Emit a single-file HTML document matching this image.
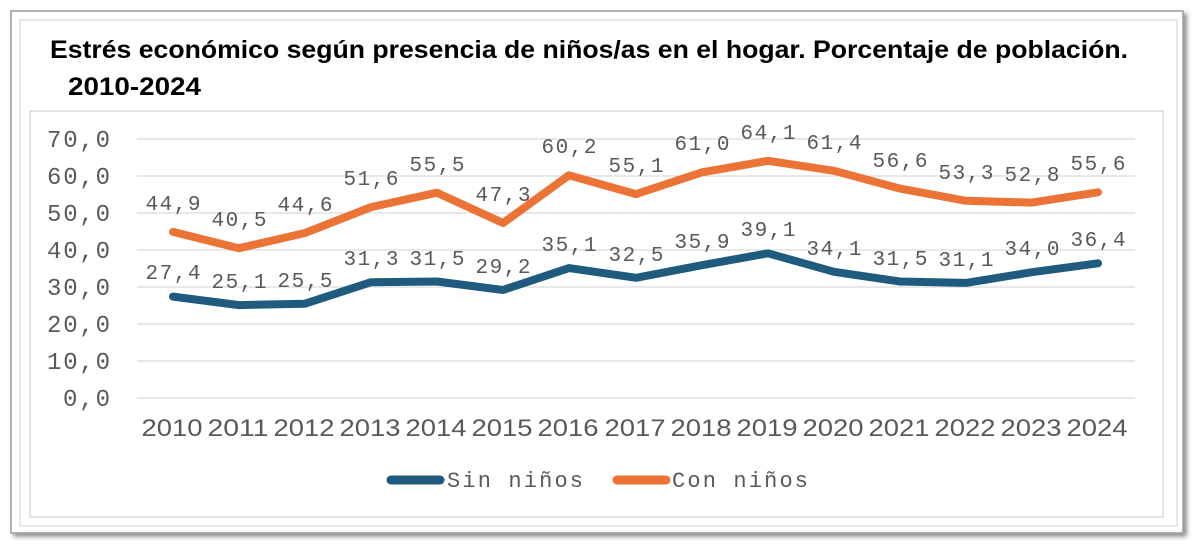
<!DOCTYPE html>
<html><head><meta charset="utf-8"><style>
html,body{margin:0;padding:0;background:#fff;}
svg{display:block;}
</style></head><body>
<svg width="1200" height="548" xmlns="http://www.w3.org/2000/svg">
<defs><filter id="sh" x="-5%" y="-5%" width="110%" height="115%"><feDropShadow dx="3" dy="3" stdDeviation="2.5" flood-color="#000" flood-opacity="0.45"/></filter></defs>
<rect x="11" y="11" width="1172" height="522" fill="#fff" stroke="#9a9a9a" stroke-width="1.5" filter="url(#sh)"/>
<rect x="20" y="20" width="1157" height="506" fill="#fff" stroke="#d0d0d0" stroke-width="1"/>
<rect x="30" y="111" width="1133" height="406" fill="#fff" stroke="#d9d9d9" stroke-width="1.5"/>
<g font-family="'Liberation Sans',sans-serif" font-weight="bold" font-size="25" fill="#000">
<text x="50" y="58" textLength="1078" lengthAdjust="spacingAndGlyphs">Estrés económico según presencia de niños/as en el hogar. Porcentaje de población.</text>
<text x="68" y="95" textLength="133" lengthAdjust="spacingAndGlyphs">2010-2024</text>
</g>
<g stroke="#d9d9d9" stroke-width="1.3">
<line x1="137" x2="1135" y1="139" y2="139"/><line x1="137" x2="1135" y1="176" y2="176"/><line x1="137" x2="1135" y1="213" y2="213"/><line x1="137" x2="1135" y1="250" y2="250"/><line x1="137" x2="1135" y1="287" y2="287"/><line x1="137" x2="1135" y1="324" y2="324"/><line x1="137" x2="1135" y1="361" y2="361"/><line x1="137" x2="1135" y1="398" y2="398"/>
</g>
<g font-family="'Liberation Mono',monospace" font-size="24" fill="#595959" text-anchor="end">
<text x="110" y="147" textLength="63">70,0</text><text x="110" y="184" textLength="63">60,0</text><text x="110" y="221" textLength="63">50,0</text><text x="110" y="258" textLength="63">40,0</text><text x="110" y="295" textLength="63">30,0</text><text x="110" y="332" textLength="63">20,0</text><text x="110" y="369" textLength="63">10,0</text><text x="110" y="406" textLength="47">0,0</text>
</g>
<g font-family="'Liberation Sans',sans-serif" font-size="24" fill="#595959" text-anchor="middle" lengthAdjust="spacingAndGlyphs">
<text x="172" y="436" textLength="61" lengthAdjust="spacingAndGlyphs">2010</text><text x="238" y="436" textLength="61" lengthAdjust="spacingAndGlyphs">2011</text><text x="304" y="436" textLength="61" lengthAdjust="spacingAndGlyphs">2012</text><text x="370" y="436" textLength="61" lengthAdjust="spacingAndGlyphs">2013</text><text x="436" y="436" textLength="61" lengthAdjust="spacingAndGlyphs">2014</text><text x="502" y="436" textLength="61" lengthAdjust="spacingAndGlyphs">2015</text><text x="568" y="436" textLength="61" lengthAdjust="spacingAndGlyphs">2016</text><text x="635" y="436" textLength="61" lengthAdjust="spacingAndGlyphs">2017</text><text x="701" y="436" textLength="61" lengthAdjust="spacingAndGlyphs">2018</text><text x="767" y="436" textLength="61" lengthAdjust="spacingAndGlyphs">2019</text><text x="833" y="436" textLength="61" lengthAdjust="spacingAndGlyphs">2020</text><text x="899" y="436" textLength="61" lengthAdjust="spacingAndGlyphs">2021</text><text x="965" y="436" textLength="61" lengthAdjust="spacingAndGlyphs">2022</text><text x="1031" y="436" textLength="61" lengthAdjust="spacingAndGlyphs">2023</text><text x="1097" y="436" textLength="61" lengthAdjust="spacingAndGlyphs">2024</text>
</g>
<polyline fill="none" stroke="#1f5b7e" stroke-width="8" stroke-linejoin="round" stroke-linecap="round" points="173,296.6 239,305.1 305,303.7 371,282.2 437,281.5 503,290 569,268.1 636,277.8 702,265.2 768,253.3 834,271.8 900,281.5 966,282.9 1032,272.2 1098,263.3"/>
<polyline fill="none" stroke="#eb7335" stroke-width="8" stroke-linejoin="round" stroke-linecap="round" points="173,231.9 239,248.2 305,233 371,207.1 437,192.7 503,223 569,175.3 636,194.1 702,172.3 768,160.8 834,170.8 900,188.6 966,200.8 1032,202.6 1098,192.3"/>
<g font-family="'Liberation Mono',monospace" font-size="21" fill="#595959" text-anchor="middle">
<text x="173" y="279" textLength="55">27,4</text><text x="239" y="288" textLength="55">25,1</text><text x="305" y="287" textLength="55">25,5</text><text x="371" y="265" textLength="55">31,3</text><text x="437" y="265" textLength="55">31,5</text><text x="503" y="273" textLength="55">29,2</text><text x="569" y="251" textLength="55">35,1</text><text x="636" y="261" textLength="55">32,5</text><text x="702" y="248" textLength="55">35,9</text><text x="768" y="236" textLength="55">39,1</text><text x="834" y="255" textLength="55">34,1</text><text x="900" y="265" textLength="55">31,5</text><text x="966" y="266" textLength="55">31,1</text><text x="1032" y="255" textLength="55">34,0</text><text x="1098" y="246" textLength="55">36,4</text>
<text x="173" y="210" textLength="55">44,9</text><text x="239" y="226" textLength="55">40,5</text><text x="305" y="211" textLength="55">44,6</text><text x="371" y="185" textLength="55">51,6</text><text x="437" y="171" textLength="55">55,5</text><text x="503" y="201" textLength="55">47,3</text><text x="569" y="153" textLength="55">60,2</text><text x="636" y="172" textLength="55">55,1</text><text x="702" y="150" textLength="55">61,0</text><text x="768" y="139" textLength="55">64,1</text><text x="834" y="149" textLength="55">61,4</text><text x="900" y="167" textLength="55">56,6</text><text x="966" y="179" textLength="55">53,3</text><text x="1032" y="181" textLength="55">52,8</text><text x="1098" y="170" textLength="55">55,6</text>
</g>
<line x1="391" x2="440" y1="480" y2="480" stroke="#1f5b7e" stroke-width="9" stroke-linecap="round"/>
<line x1="617" x2="666" y1="480" y2="480" stroke="#eb7335" stroke-width="9" stroke-linecap="round"/>
<g font-family="'Liberation Mono',monospace" font-size="22" fill="#595959">
<text x="447" y="487" textLength="136">Sin niños</text>
<text x="672" y="487" textLength="136">Con niños</text>
</g>
</svg>
</body></html>
